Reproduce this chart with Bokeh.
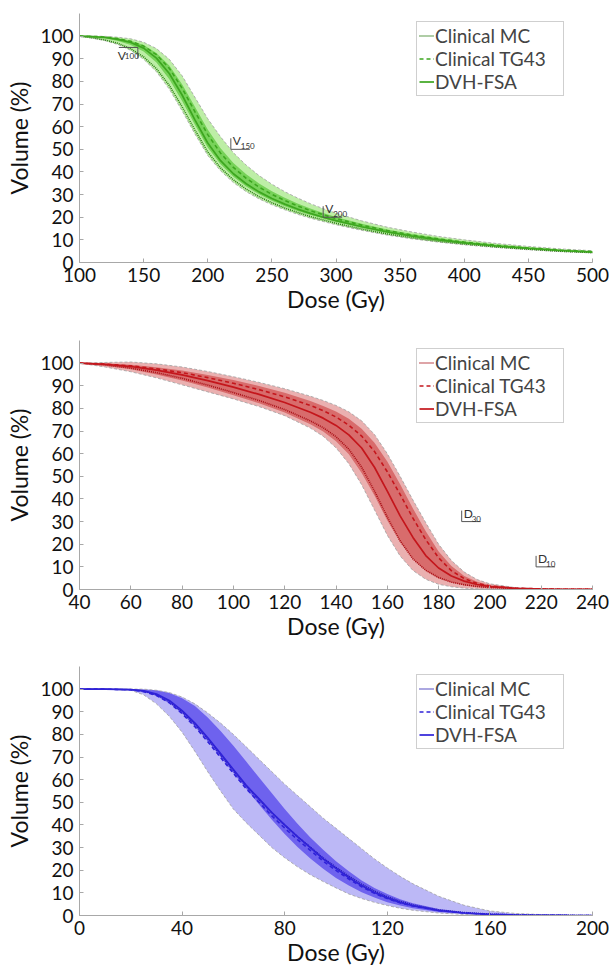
from bokeh.plotting import figure
from bokeh.models import Range1d, Legend, LegendItem, FixedTicker
from bokeh.layouts import column
from bokeh.embed import file_html
from bokeh.resources import INLINE
from bokeh.core.properties import value

FONT = "Lato"

# ---------------- Panel 1 (green) ----------------
dose1 = [100, 110, 120, 130, 140, 150, 160, 170, 180, 190, 200, 210, 220, 230, 240, 250,
         260, 270, 280, 290, 300, 320, 340, 360, 380, 400, 425, 450, 475, 500]
mc1 = [100, 99.3, 98.3, 96.8, 94.4, 90.8, 85.6, 78.2, 68.8, 58.5, 48.8, 41.8, 36.5, 32.4, 29.1, 26.4,
       24.1, 22.1, 20.3, 18.8, 17.3, 14.8, 12.6, 10.9, 9.4, 8.2, 6.9, 5.9, 5.0, 4.4]
fsa1 = [100, 99.8, 99.4, 98.6, 97.2, 94.7, 90.3, 83.5, 74.0, 63.0, 52.8, 45.0, 39.2, 34.8, 31.2, 28.3,
        25.8, 23.6, 21.7, 20.0, 18.5, 15.8, 13.5, 11.6, 10.0, 8.7, 7.3, 6.2, 5.3, 4.6]
tg1 = [100, 99.9, 99.6, 98.9, 97.7, 95.6, 91.8, 85.8, 77.0, 66.6, 56.5, 48.3, 42.0, 37.2, 33.3, 30.1,
       27.4, 25.0, 22.9, 21.1, 19.4, 16.5, 14.1, 12.1, 10.4, 9.0, 7.6, 6.4, 5.5, 4.8]
out1_hi = [100, 100, 99.9, 99.5, 98.8, 97.3, 94.5, 89.8, 82.5, 73.0, 63.5, 55.5, 48.5, 43.0, 38.4, 34.6,
           31.3, 28.5, 26.0, 23.8, 21.8, 18.4, 15.6, 13.4, 11.5, 10.0, 8.4, 7.1, 6.0, 5.2]
out1_lo = [100, 99.1, 98.0, 96.3, 93.7, 89.8, 84.3, 76.6, 67.0, 56.8, 47.3, 40.5, 35.3, 31.3, 28.1, 25.5,
           23.3, 21.3, 19.6, 18.1, 16.7, 14.2, 12.1, 10.4, 9.0, 7.8, 6.6, 5.6, 4.8, 4.2]
in1_hi = [100, 99.9, 99.7, 99.1, 98.0, 96.1, 92.6, 87.0, 78.8, 68.8, 58.8, 50.5, 44.0, 39.0, 34.9, 31.5,
          28.6, 26.1, 23.9, 21.9, 20.1, 17.1, 14.6, 12.5, 10.8, 9.3, 7.8, 6.6, 5.6, 4.9]
in1_lo = [100, 99.6, 99.0, 97.9, 96.1, 93.2, 88.4, 81.0, 71.4, 60.8, 50.8, 43.4, 37.9, 33.6, 30.1, 27.3,
          24.9, 22.8, 21.0, 19.4, 17.9, 15.3, 13.0, 11.2, 9.7, 8.4, 7.1, 6.0, 5.2, 4.5]
xticks1 = [100, 150, 200, 250, 300, 350, 400, 450, 500]
ann1_x = [145.5, 218, 290]
ann1_y = [95, 50, 20]
ann1_main = ["V", "V", "V"]
ann1_sub = ["100", "150", "200"]
ann1_shape = ["top", "bottom", "bottom"]

# ---------------- Panel 2 (red) ----------------
dose2 = [40, 50, 60, 70, 80, 90, 100, 110, 120, 130, 135, 140, 145, 150, 155, 160, 165, 170,
         175, 180, 185, 190, 195, 200, 210, 220, 230, 240]
mc2 = [100, 99.2, 97.8, 95.8, 93.3, 90.3, 87.0, 83.5, 79.5, 74.5, 71.5, 67.5, 62.0, 54.0, 43.5, 32.0,
       21.5, 13.5, 8.5, 5.3, 3.3, 2.1, 1.3, 0.85, 0.4, 0.2, 0.1, 0.05]
fsa2 = [100, 99.5, 98.5, 96.9, 94.8, 92.3, 89.4, 86.2, 82.6, 78.3, 75.7, 72.5, 68.3, 62.5, 54.0, 43.5,
        32.5, 23.0, 15.0, 9.5, 6.0, 3.7, 2.2, 1.3, 0.5, 0.2, 0.1, 0.05]
tg2 = [100, 99.6, 98.8, 97.5, 95.8, 93.6, 91.1, 88.3, 85.1, 81.3, 79.0, 76.2, 72.6, 67.8, 61.0, 52.0,
       42.0, 31.5, 22.0, 14.0, 8.3, 4.8, 2.7, 1.6, 0.6, 0.25, 0.1, 0.05]
out2_hi = [100, 100.3, 100.5, 99.7, 98.3, 96.3, 94.0, 91.5, 88.7, 85.4, 83.5, 81.3, 78.5, 74.5, 68.5, 60.0,
           50.0, 39.5, 29.5, 20.0, 12.8, 7.7, 4.4, 2.5, 0.8, 0.3, 0.1, 0.05]
out2_lo = [100, 98.3, 96.2, 93.5, 90.4, 87.3, 84.2, 80.8, 76.8, 71.3, 67.7, 62.6, 55.6, 46.3, 35.2, 24.0,
           14.8, 8.4, 4.5, 2.3, 1.2, 0.6, 0.3, 0.15, 0.05, 0, 0, 0]
in2_hi = [100, 99.8, 99.3, 98.2, 96.7, 94.8, 92.5, 89.9, 86.9, 83.3, 81.1, 78.6, 75.4, 71.0, 64.8, 56.5,
          46.5, 35.8, 25.7, 16.8, 10.4, 6.0, 3.4, 1.9, 0.7, 0.3, 0.1, 0.05]
in2_lo = [100, 98.9, 97.3, 95.0, 92.3, 89.2, 85.8, 82.3, 78.2, 73.0, 69.8, 65.5, 59.8, 51.5, 41.5, 30.5,
          21.0, 13.4, 8.2, 4.9, 3.0, 1.8, 1.1, 0.7, 0.3, 0.1, 0.05, 0]
xticks2 = [40, 60, 80, 100, 120, 140, 160, 180, 200, 220, 240]
ann2_x = [189, 218]
ann2_y = [30, 10]
ann2_main = ["D", "D"]
ann2_sub = ["30", "10"]
ann2_shape = ["bottom", "bottom"]

# ---------------- Panel 3 (blue) ----------------
dose3 = [0, 10, 20, 25, 30, 35, 40, 45, 50, 55, 60, 65, 70, 75, 80, 85, 90, 95, 100, 105,
         110, 115, 120, 125, 130, 140, 150, 160, 170, 180, 190, 200]
fsa3 = [100, 100, 99.8, 99.2, 97.8, 95.0, 90.5, 85.0, 78.5, 71.5, 64.5, 57.5, 51.5, 45.5, 40.0, 34.8,
        30.0, 25.0, 20.8, 16.8, 13.2, 10.2, 7.8, 5.8, 4.3, 2.2, 1.1, 0.5, 0.2, 0.08, 0.03, 0.01]
tg3 = [100, 100, 99.7, 98.9, 97.2, 94.0, 89.2, 83.4, 76.8, 69.8, 62.8, 56.0, 50.0, 44.0, 38.6, 33.5,
       28.8, 24.0, 19.9, 16.1, 12.7, 9.8, 7.5, 5.6, 4.2, 2.2, 1.1, 0.5, 0.2, 0.08, 0.03, 0.01]
mc3 = [100, 100, 99.8, 99.1, 97.6, 94.6, 90.0, 84.5, 78.0, 71.0, 64.0, 57.2, 51.2, 45.3, 39.9, 34.8,
       30.2, 25.4, 21.3, 17.4, 13.8, 10.8, 8.3, 6.3, 4.7, 2.5, 1.3, 0.6, 0.25, 0.1, 0.04, 0.01]
out3_hi = [100, 100, 100, 100, 99.5, 98.5, 96.5, 93.5, 89.5, 85.0, 80.0, 74.5, 69.0, 63.5, 58.0, 53.0,
           48.0, 43.0, 38.5, 34.0, 29.5, 25.0, 21.0, 17.3, 14.0, 8.5, 4.5, 2.0, 0.9, 0.4, 0.15, 0.05]
out3_lo = [100, 100, 99.5, 97.5, 93.5, 88.0, 81.0, 72.5, 63.5, 55.0, 47.0, 41.0, 35.5, 30.0, 25.5, 21.5,
           18.0, 15.0, 12.2, 9.5, 7.5, 5.8, 4.4, 3.2, 2.3, 1.1, 0.45, 0.2, 0.08, 0.03, 0.01, 0]
in3_hi = [100, 100, 100, 99.8, 99.5, 98.3, 96.0, 92.5, 87.5, 81.5, 75.0, 68.0, 61.0, 54.0, 47.0, 40.5,
          34.5, 29.0, 24.0, 19.5, 15.5, 12.2, 9.5, 7.2, 5.4, 2.9, 1.4, 0.6, 0.25, 0.1, 0.04, 0.01]
in3_lo = [100, 100, 99.8, 99.0, 97.0, 93.8, 89.2, 83.5, 77.0, 70.0, 63.0, 56.0, 49.0, 42.3, 36.0, 30.3,
          25.2, 20.6, 16.6, 13.2, 10.3, 7.9, 5.9, 4.4, 3.2, 1.6, 0.8, 0.35, 0.15, 0.06, 0.02, 0]
xticks3 = [0, 40, 80, 120, 160, 200]

yticks = [0, 10, 20, 30, 40, 50, 60, 70, 80, 90, 100]
series_labels = ["Clinical MC", "Clinical TG43", "DVH-FSA"]

FRAME_W = 513
FRAME_H = 249


def panel(d, mc, tg, fsa, olo, ohi, ilo, ihi, xr, xticks, col, col_dark, c_out, c_in,
          height, top, bottom, anns=None):
    p = figure(width=609, height=height, x_range=Range1d(xr[0], xr[1]), y_range=Range1d(0, 110),
               output_backend="svg", toolbar_location=None,
               min_border_left=79, min_border_right=17, min_border_top=top, min_border_bottom=bottom)
    p.outline_line_color = None
    p.grid.visible = False
    p.varea(x=d, y1=olo, y2=ohi, fill_color=c_out, fill_alpha=1)
    p.varea(x=d, y1=ilo, y2=ihi, fill_color=c_in, fill_alpha=1)
    for arr in (olo, ohi):
        p.line(d, arr, line_color="#a0a0a0", line_width=0.8, line_dash="3 2")
    r_mc = p.line(d, mc, line_color=col_dark, line_width=1.6, line_dash="1 1")
    r_tg = p.line(d, tg, line_color=col, line_width=1.6, line_dash="4 3")
    r_fsa = p.line(d, fsa, line_color=col, line_width=1.7)

    if anns:
        ax, ay, am, asub, ashape = anns
        sx = FRAME_W / (xr[1] - xr[0])
        sy = FRAME_H / 110.0
        w = 19 / sx
        h = 11 / sy
        for x0, y0, m, s, shp in zip(ax, ay, am, asub, ashape):
            if shp == "bottom":
                p.segment(x0=[x0, x0], y0=[y0 + h, y0], x1=[x0, x0 + w], y1=[y0, y0],
                          line_color="#555555", line_width=1)
                p.text(x=[x0], y=[y0], text=[m], x_offset=2, y_offset=-1, text_baseline="bottom",
                       text_font=value(FONT), text_font_size="12px", text_color="#333333")
                p.text(x=[x0], y=[y0], text=[s], x_offset=10, y_offset=0, text_baseline="bottom",
                       text_font=value(FONT), text_font_size="8px", text_color="#333333")
            else:
                p.segment(x0=[x0 - w, x0], y0=[y0, y0], x1=[x0, x0], y1=[y0, y0 - h],
                          line_color="#555555", line_width=1)
                p.text(x=[x0], y=[y0], text=[m], x_offset=-20, y_offset=1, text_baseline="top",
                       text_font=value(FONT), text_font_size="12px", text_color="#333333")
                p.text(x=[x0], y=[y0], text=[s], x_offset=-13, y_offset=6, text_baseline="top",
                       text_font=value(FONT), text_font_size="8px", text_color="#333333")

    legend = Legend(items=[LegendItem(label=series_labels[0], renderers=[r_mc]),
                           LegendItem(label=series_labels[1], renderers=[r_tg]),
                           LegendItem(label=series_labels[2], renderers=[r_fsa])],
                    location=(337, 166))
    legend.label_text_font = FONT
    legend.label_text_font_size = "19px"
    legend.label_height = 21
    legend.glyph_height = 21
    legend.glyph_width = 15
    legend.label_standoff = 1
    legend.padding = 2
    legend.spacing = 0
    legend.label_width = 126
    legend.margin = 0
    legend.border_line_color = "#a0a0a0"
    legend.border_line_width = 1
    legend.background_fill_color = "white"
    legend.background_fill_alpha = 1
    p.add_layout(legend)

    p.xaxis.ticker = FixedTicker(ticks=xticks)
    p.yaxis.ticker = FixedTicker(ticks=yticks)
    p.xaxis.axis_label = "Dose (Gy)"
    p.yaxis.axis_label = "Volume (%)"
    for ax_ in (p.xaxis, p.yaxis):
        ax_.axis_line_color = "#a8a8a8"
        ax_.major_tick_line_color = "#a8a8a8"
        ax_.major_tick_in = 4
        ax_.major_tick_out = 0
        ax_.minor_tick_line_color = None
        ax_.major_label_text_font = FONT
        ax_.major_label_text_font_size = "19px"
        ax_.major_label_text_color = "#111111"
        ax_.axis_label_text_font = FONT
        ax_.axis_label_text_font_size = "23px"
        ax_.axis_label_text_font_style = "normal"
        ax_.axis_label_text_color = "#111111"
    p.xaxis.major_label_standoff = 5
    p.xaxis.axis_label_standoff = 0
    p.yaxis.major_label_standoff = 6
    p.yaxis.axis_label_standoff = 4
    return p


p1 = panel(dose1, mc1, tg1, fsa1, out1_lo, out1_hi, in1_lo, in1_hi, (100, 500), xticks1,
           "#3da61f", "#2b7a14", "#bdeea6", "#77d259", 335, 13, 73,
           (ann1_x, ann1_y, ann1_main, ann1_sub, ann1_shape))
p2 = panel(dose2, mc2, tg2, fsa2, out2_lo, out2_hi, in2_lo, in2_hi, (40, 240), xticks2,
           "#c4161c", "#a80f16", "#eab0b0", "#d86c6c", 326, 5, 72,
           (ann2_x, ann2_y, ann2_main, ann2_sub, ann2_shape))
p3 = panel(dose3, mc3, tg3, fsa3, out3_lo, out3_hi, in3_lo, in3_hi, (0, 200), xticks3,
           "#2f22d8", "#2418b0", "#bcb8f6", "#6e62ee", 307, 5, 53)

layout = column(p1, p2, p3)
open("out.html", "w").write(file_html(layout, INLINE))
